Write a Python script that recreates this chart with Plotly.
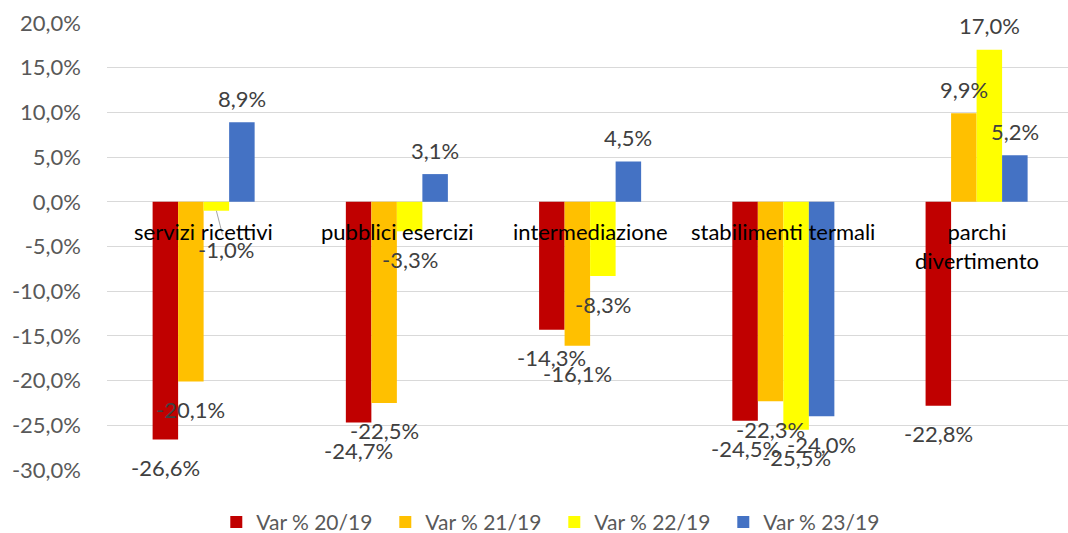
import plotly.graph_objects as go

categories = ["servizi ricettivi", "pubblici esercizi", "intermediazione",
              "stabilimenti termali", "parchi divertimento"]
category_labels = ["servizi ricettivi", "pubblici esercizi", "intermediazione",
                   "stabilimenti termali", "parchi<br>divertimento"]
series_names = ["Var % 20/19", "Var % 21/19", "Var % 22/19", "Var % 23/19"]
var_20_19 = [-26.6, -24.7, -14.3, -24.5, -22.8]
var_21_19 = [-20.1, -22.5, -16.1, -22.3, 9.9]
var_22_19 = [-1.0, -3.3, -8.3, -25.5, 17.0]
var_23_19 = [8.9, 3.1, 4.5, -24.0, 5.2]
y_ticks = [20, 15, 10, 5, 0, -5, -10, -15, -20, -25, -30]

series_values = [var_20_19, var_21_19, var_22_19, var_23_19]
colors = ["#C00000", "#FFC000", "#FFFF00", "#4472C4"]

FONT = "Lato, 'Liberation Sans', sans-serif"
FS = 22


def fmt(v):
    return f"{v:.1f}".replace(".", ",") + "%"


fig = go.Figure()
for name, vals, col in zip(series_names, series_values, colors):
    fig.add_trace(go.Bar(x=categories, y=vals, name=name, marker_color=col,
                         marker_line_width=0))

bar_px = 25.5
offsets = [-1.5 * bar_px, -0.5 * bar_px, 0.5 * bar_px, 1.5 * bar_px]
annotations = []
for si, vals in enumerate(series_values):
    for ci, v in enumerate(vals):
        if si == 2 and ci == 0:
            # label with leader line
            annotations.append(dict(x=categories[ci], y=v, xref="x", yref="y",
                                    text=fmt(v), showarrow=True, arrowhead=0,
                                    arrowwidth=1, arrowcolor="#A6A6A6",
                                    ax=10, ay=39,
                                    xshift=offsets[si], standoff=0,
                                    font=dict(family=FONT, size=FS, color="#404040")))
            continue
        annotations.append(dict(x=categories[ci], y=v, xref="x", yref="y",
                                text=fmt(v), showarrow=False,
                                xshift=offsets[si], yshift=(24 if v > 0 else -28),
                                font=dict(family=FONT, size=FS, color="#404040")))

for ci, lab in enumerate(category_labels):
    annotations.append(dict(x=categories[ci], y=0, xref="x", yref="y", text=lab,
                            showarrow=False, yshift=(-44 if "<br>" in lab else -30),
                            font=dict(family=FONT, size=FS, color="#000000")))

fig.update_layout(
    width=1068, height=533,
    margin=dict(l=107, r=0, t=23, b=63),
    paper_bgcolor="white", plot_bgcolor="white",
    barmode="group", bargap=0.472, bargroupgap=0,
    separators=",.",
    font=dict(family=FONT, size=FS, color="#595959"),
    xaxis=dict(showticklabels=False, showgrid=False, zeroline=False,
               range=[-0.5, 4.473], fixedrange=True),
    yaxis=dict(range=[-30, 20], tickvals=y_ticks,
               ticktext=[fmt(t) for t in y_ticks],
               showgrid=True, gridcolor="#D9D9D9", gridwidth=1,
               zeroline=True, zerolinecolor="#D9D9D9", zerolinewidth=1,
               ticklabelstandoff=25, fixedrange=True,
               tickfont=dict(family=FONT, size=FS, color="#595959")),
    legend=dict(orientation="h", xref="container", yref="container",
                x=0.519, xanchor="center", y=0.02, yanchor="middle",
                font=dict(family=FONT, size=21, color="#595959"),
                itemwidth=30, entrywidth=124, traceorder="normal"),
    annotations=annotations,
    showlegend=True,
)

fig.write_html("out.html", config={"displayModeBar": False},
               post_script="document.body.style.margin='0';document.body.style.padding='0';")
